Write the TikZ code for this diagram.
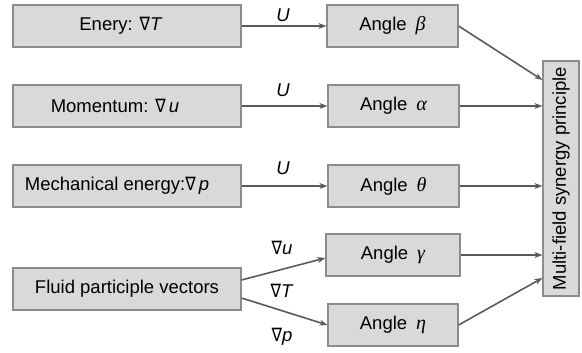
\documentclass[tikz,border=0pt]{standalone}
\usepackage{fontspec}
\usepackage{graphicx}
\setmainfont{Liberation Sans}
\newfontfamily\symfont{DejaVu Sans}
\newfontfamily\grkfont{Liberation Serif}
\usetikzlibrary{arrows.meta}
% slim nabla and serif italic Greek letters
\newcommand{\nab}{{\scalebox{0.85}[1]{\symfont\char"2207}}}
\newcommand{\grk}[1]{{\fontsize{20}{22}\selectfont\grkfont\itshape #1}}
% empty space after the text moves it left inside its box
\newcommand{\padright}[1]{\kern#1\relax}
\definecolor{boxfill}{HTML}{D9D9D9}
\definecolor{boxline}{HTML}{8C8C8C}
\definecolor{linkcol}{HTML}{5A5A5A}
\begin{document}
\begin{tikzpicture}[x=1pt,y=-1pt,
  txt/.style={font=\fontsize{18.5}{22}\selectfont},
  box/.style={txt, draw=boxline, fill=boxfill, line width=1.2pt,
    inner sep=0pt, minimum height=42pt},
  srcbox/.style={box, minimum width=228pt},
  anglebox/.style={box, minimum width=131pt},
  link/.style={draw=linkcol, line width=1.6pt,
    -{Stealth[length=8pt,width=6pt]}},
  lab/.style={txt, inner sep=0pt}]
\useasboundingbox (0,0) rectangle (582,353);

% source quantities
\node[srcbox] (e1) at (127,26)  {Enery: \nab\textit{T}\padright{12pt}};
\node[srcbox] (e2) at (127,106) {Momentum: \nab\,\textit{u}\padright{24pt}};
\node[srcbox] (e3) at (127,186) {Mechanical energy:\nab\,\textit{p}\padright{20pt}};
\node[srcbox] (e4) at (127,289) {Fluid participle vectors};

% synergy angles
\node[anglebox] (a1) at (392.5,26)  {Angle\hspace{9pt}\grk{β}};
\node[anglebox] (a2) at (393.5,106) {Angle\hspace{9pt}\grk{α}};
\node[anglebox] (a3) at (393.5,186) {Angle\hspace{9pt}\grk{θ}};
\node[anglebox, minimum width=134pt] (a4) at (393,255) {Angle\hspace{9pt}\grk{γ}};
\node[anglebox, minimum width=130pt] (a5) at (393,325) {Angle\hspace{9pt}\grk{η}};

% principle
\node[box, minimum width=36pt, minimum height=235pt] (M) at (561,178.5)
  {\rotatebox{90}{Multi-field synergy principle}};

% source -> angle
\draw[link] (e1) -- (a1);
\draw[link] (e2) -- (a2);
\draw[link] (e3) -- (a3);
\draw[link] ([yshift=9pt]e4.east) -- ([yshift=-3pt]a4.west);
\draw[link] ([yshift=-9pt]e4.east) -- (a5.west);

% angle -> principle
\draw[link] (a1.east) -- ([yshift=98.5pt]M.west);
\draw[link] (a2.east) -- (a2.east -| M.west);
\draw[link] (a3.east) -- (a3.east -| M.west);
\draw[link] (a4.east) -- (a4.east -| M.west);
\draw[link] (a5.east) -- ([yshift=-99.5pt]M.west);

% labels on the links
\node[lab] (u1) at (283,15)  {\textit{U}};
\node[lab] (u2) at (283,90)  {\textit{U}};
\node[lab] (u3) at (283,168) {\textit{U}};
\node[lab] (g1) at (282,248) {\nab\textit{u}};
\node[lab] (g2) at (282,291) {\nab\textit{T}};
\node[lab] (g3) at (282,337) {\nab\textit{p}};
\end{tikzpicture}
\end{document}
